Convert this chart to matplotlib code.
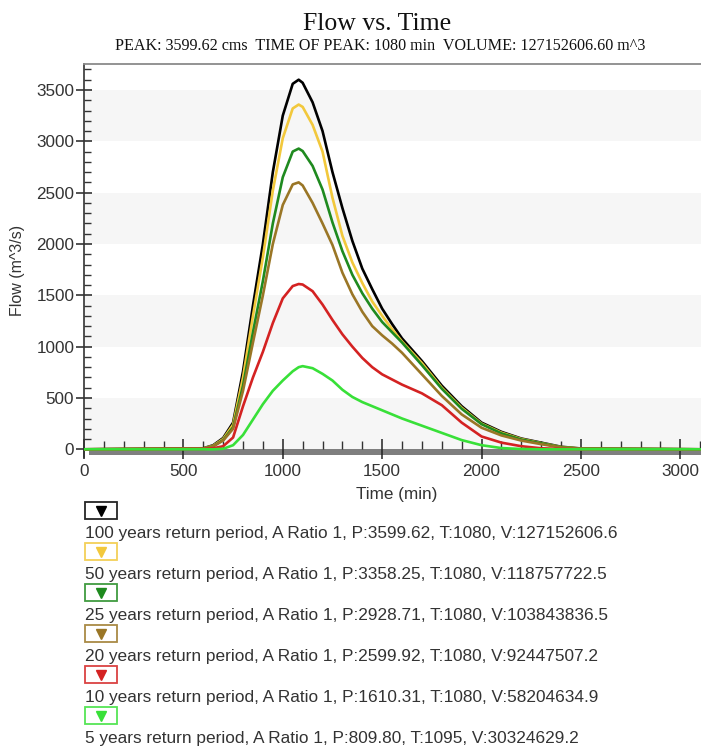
import matplotlib
matplotlib.use("Agg")
import matplotlib.pyplot as plt
from matplotlib.patches import Rectangle
from matplotlib.lines import Line2D
from matplotlib.ticker import MultipleLocator

# ---------------- data ----------------
time_min = [0, 600, 650, 700, 750, 800, 850, 900, 950, 1000, 1050, 1080, 1100,
            1150, 1200, 1250, 1300, 1350, 1400, 1450, 1500, 1550, 1600, 1700,
            1800, 1900, 2000, 2100, 2200, 2300, 2400, 2500, 3100]

flow_100yr = [0, 10, 40, 110, 260, 760, 1400, 2000, 2700, 3250, 3560, 3600, 3570,
              3380, 3100, 2700, 2350, 2030, 1760, 1560, 1370, 1220, 1080, 860,
              620, 420, 260, 170, 105, 65, 25, 8, 0]
flow_50yr = [0, 8, 35, 100, 240, 700, 1300, 1870, 2520, 3030, 3320, 3358, 3335,
             3160, 2900, 2450, 2080, 1820, 1620, 1440, 1300, 1170, 1050, 840,
             600, 405, 250, 162, 100, 60, 22, 7, 0]
flow_25yr = [0, 7, 30, 90, 215, 620, 1140, 1640, 2200, 2650, 2900, 2929, 2905,
             2760, 2530, 2210, 1930, 1700, 1520, 1370, 1240, 1140, 1040, 820,
             590, 395, 245, 155, 95, 58, 20, 6, 0]
flow_20yr = [0, 7, 30, 85, 200, 570, 1040, 1500, 2000, 2380, 2580, 2600, 2570,
             2400, 2200, 1990, 1720, 1510, 1340, 1200, 1110, 1030, 940, 730,
             520, 340, 210, 135, 85, 50, 18, 5, 0]
flow_10yr = [0, 3, 10, 30, 115, 420, 700, 950, 1230, 1470, 1590, 1610, 1605,
             1540, 1410, 1260, 1120, 1000, 890, 800, 730, 680, 630, 545,
             430, 260, 125, 65, 30, 10, 3, 0, 0]
flow_5yr = [0, 0, 0, 5, 40, 140, 290, 440, 570, 670, 760, 800, 810,
            790, 735, 670, 580, 510, 460, 420, 380, 340, 300, 230,
            160, 90, 40, 12, 3, 0, 0, 0, 0]

series = [flow_100yr, flow_50yr, flow_25yr, flow_20yr, flow_10yr, flow_5yr]
series_colors = ["#000000", "#f2c83c", "#1f8a1f", "#9a7626", "#d42222", "#38e038"]
legend_labels = [
    "100 years return period, A Ratio 1, P:3599.62, T:1080, V:127152606.6",
    "50 years return period, A Ratio 1, P:3358.25, T:1080, V:118757722.5",
    "25 years return period, A Ratio 1, P:2928.71, T:1080, V:103843836.5",
    "20 years return period, A Ratio 1, P:2599.92, T:1080, V:92447507.2",
    "10 years return period, A Ratio 1, P:1610.31, T:1080, V:58204634.9",
    "5 years return period, A Ratio 1, P:809.80, T:1095, V:30324629.2",
]
title_text = "Flow vs. Time"
subtitle_text = "PEAK: 3599.62 cms  TIME OF PEAK: 1080 min  VOLUME: 127152606.60 m^3"

# ---------------- figure ----------------
W, H = 701, 752
fig = plt.figure(figsize=(W / 100, H / 100), dpi=100)
plt.rcParams['font.family'] = ['Liberation Sans', 'DejaVu Sans']

ax_left, ax_right, ax_top, ax_bot = 84, 701, 64, 456.7
ax = fig.add_axes([ax_left / W, 1 - ax_bot / H, (ax_right - ax_left) / W, (ax_bot - ax_top) / H])
ax.set_xlim(0, 3104)
ax.set_ylim(-72, 3753)

# alternating light bands
for lo in (0, 1000, 2000, 3000):
    ax.axhspan(lo, lo + 500, color="#f6f6f6", zorder=0, lw=0)
# dark gray base band just under zero
ax.axhspan(-55, 0, xmin=0.008, xmax=1.0, color="#7f7f7f", zorder=1, lw=0)

for vals, c in zip(series, series_colors):
    ax.plot(time_min, vals, color=c, lw=1.9, zorder=3, solid_joinstyle='round')

# spines
ax.spines['right'].set_visible(False)
ax.spines['top'].set_color('#8a8a8a')
ax.spines['top'].set_linewidth(1.3)
ax.spines['left'].set_color('#333333')
ax.spines['left'].set_linewidth(1.2)
ax.spines['bottom'].set_position(('data', 0))
ax.spines['bottom'].set_color('none')

ax.xaxis.set_major_locator(MultipleLocator(500))
ax.xaxis.set_minor_locator(MultipleLocator(100))
ax.yaxis.set_major_locator(MultipleLocator(500))
ax.yaxis.set_minor_locator(MultipleLocator(100))
ax.set_yticks(range(0, 3501, 500))

ax.tick_params(axis='x', which='major', direction='inout', length=15, width=1.1,
               color='#222222', labelsize=12.3, labelcolor='#333333', pad=3)
ax.tick_params(axis='x', which='minor', direction='in', length=5.5, width=1.0, color='#333333')
ax.tick_params(axis='y', which='major', direction='inout', length=11, width=1.1,
               color='#222222', labelsize=12.3, labelcolor='#333333', pad=1.5)
ax.tick_params(axis='y', which='minor', direction='in', length=5, width=1.0, color='#333333')

ax.set_xlabel("Time (min)", fontsize=12.3, color='#333333')
ax.set_ylabel("Flow (m^3/s)", fontsize=11.5, color='#333333')
ax.xaxis.set_label_coords(0.506, -0.076)
ax.yaxis.set_label_coords(-0.096, 0.475)

# titles
fig.text(377 / W, 1 - 30 / H, title_text, ha='center', va='baseline',
         fontsize=18.5, family=['Liberation Serif', 'DejaVu Serif'], color='#111111')
fig.text(380 / W, 1 - 50 / H, subtitle_text, ha='center', va='baseline',
         fontsize=11.6, family=['Liberation Serif', 'DejaVu Serif'], color='#111111')

# legend below the plot
for i, (lab, c) in enumerate(zip(legend_labels, series_colors)):
    top = 502 + 41 * i
    bx, bw, bh = 85, 32, 17
    rect = Rectangle((bx / W, 1 - (top + bh) / H), bw / W, bh / H,
                     transform=fig.transFigure, facecolor='white',
                     edgecolor=c, lw=1.3, alpha=0.85)
    fig.add_artist(rect)
    mk = Line2D([(bx + bw / 2) / W], [1 - (top + bh / 2) / H], transform=fig.transFigure,
                marker='v', markersize=7.5, color=c, markeredgecolor=c, linestyle='none')
    fig.add_artist(mk)
    fig.text(85 / W, 1 - (538 + 41 * i) / H, lab, ha='left', va='baseline',
             fontsize=12.4, color='#333333')

fig.savefig("out.png", dpi=100)
